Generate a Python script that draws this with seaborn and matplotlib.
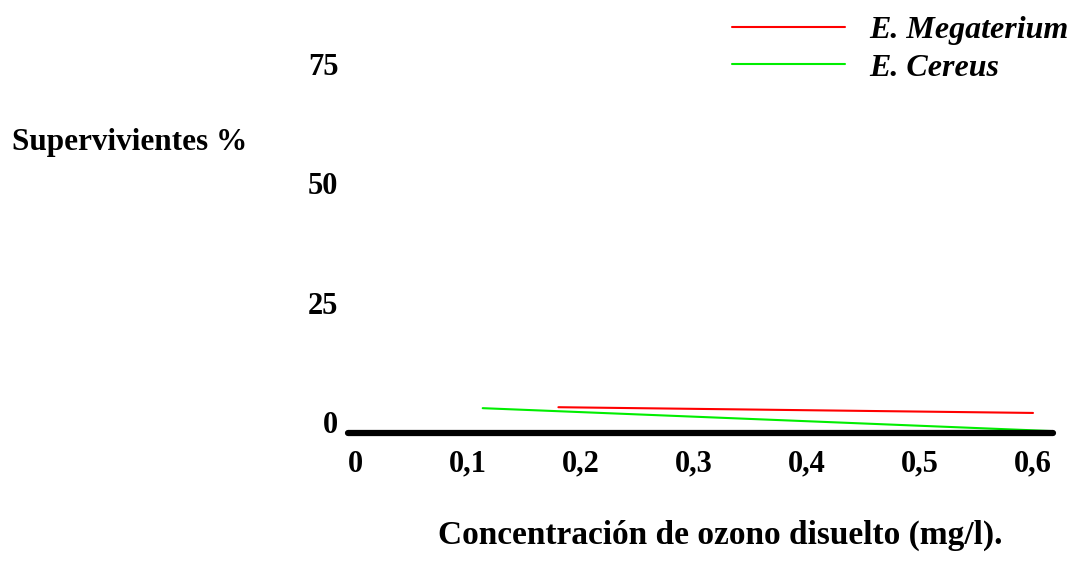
import pandas as pd
import matplotlib.pyplot as plt
import seaborn as sns

# data
series = ['E. Megaterium', 'E. Cereus']
conc_megaterium = [0.18, 0.60]
surv_megaterium = [3.1, 1.9]
conc_cereus = [0.113, 0.617]
surv_cereus = [2.9, -1.9]
colors = ['#ff0000', '#00ee00']

x_ticks = [0, 0.1, 0.2, 0.3, 0.4, 0.5, 0.6]
x_labels = ['0', '0,1', '0,2', '0,3', '0,4', '0,5', '0,6']
y_ticks = [0, 25, 50, 75]
y_labels = ['0', '25', '50', '75']

df = pd.concat([
    pd.DataFrame({'conc': conc_megaterium, 'surv': surv_megaterium, 'serie': series[0]}),
    pd.DataFrame({'conc': conc_cereus, 'surv': surv_cereus, 'serie': series[1]}),
])

sns.set_style('white')
plt.rcParams['font.family'] = ['Liberation Serif', 'DejaVu Serif']
plt.rcParams.update({'text.color': 'black', 'axes.labelcolor': 'black',
                     'xtick.color': 'black', 'ytick.color': 'black'})

fig = plt.figure(figsize=(10.72, 5.65), dpi=100)
ax = fig.add_axes([348 / 1072, 132 / 565, 705 / 1072, 393 / 565])

sns.lineplot(data=df, x='conc', y='surv', hue='serie', palette=colors,
             hue_order=series, linewidth=1.5, ax=ax, estimator=None, sort=False)

ax.set_xlim(-0.0062, 0.6177)
ax.set_ylim(-2.3, 80)

for s in ['top', 'right', 'left']:
    ax.spines[s].set_visible(False)
ax.spines['bottom'].set_linewidth(4.5)
ax.spines['bottom'].set_color('black')
ax.spines['bottom'].set_capstyle('round')

ax.set_xticks(x_ticks)
ax.set_xticklabels(x_labels, fontsize=22, fontweight='bold')
ax.set_yticks(y_ticks)
ax.set_yticklabels(y_labels, fontsize=22, fontweight='bold')
ax.tick_params(axis='x', length=0, pad=12)
ax.tick_params(axis='y', length=0, pad=7)

ax.set_xlabel('Concentración de ozono disuelto (mg/l).', fontsize=24,
              fontweight='bold', va='center')
ax.xaxis.set_label_coords(0.528, -0.26)
ax.set_ylabel('Supervivientes %', fontsize=22.5, fontweight='bold', rotation=0,
              ha='left', va='center')
ax.yaxis.set_label_coords(-0.477, 0.74)

handles, labels = ax.get_legend_handles_labels()
ax.legend(handles, labels, loc='upper left', bbox_to_anchor=(716 / 1072, 1.0),
          bbox_transform=fig.transFigure, frameon=False, borderpad=0,
          handlelength=3.54, handletextpad=0.75, labelspacing=0.25,
          prop={'size': 23, 'weight': 'bold', 'style': 'italic'})

fig.savefig('out.png', dpi=100)
